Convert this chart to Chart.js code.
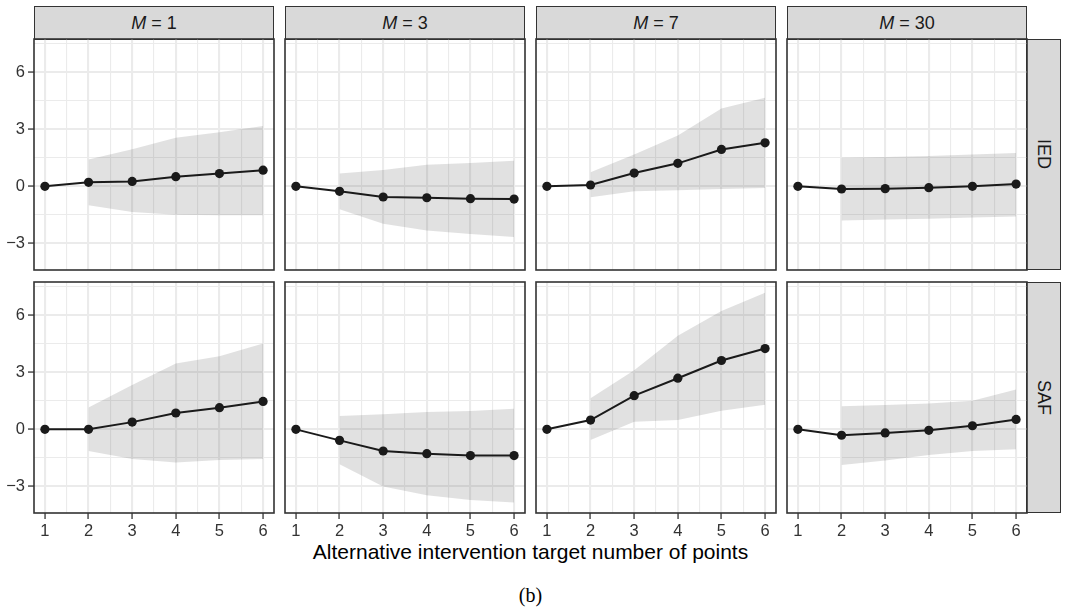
<!DOCTYPE html>
<html>
<head>
<meta charset="utf-8">
<script src="https://cdn.jsdelivr.net/npm/chart.js@4.4.1/dist/chart.umd.min.js"></script>
<style>
body { margin: 0; background: #fff; }
#wrap { position: relative; width: 1066px; height: 612px; overflow: hidden; font-family: "Liberation Sans", Arial, sans-serif; }
canvas { position: absolute; }
.strip { position: absolute; box-sizing: border-box; background: #d9d9d9; border: 1.6px solid #333;
  display: flex; align-items: center; justify-content: center; font-size: 18px; color: #1a1a1a; }
.strip.side { writing-mode: vertical-rl; }
#xtitle { position: absolute; left: 34px; width: 993px; top: 542px; text-align: center; font-size: 21px; line-height: 20px; color: #000; }
#caption { position: absolute; left: 34px; width: 993px; top: 584px; text-align: center; font-family: "Liberation Serif", "Times New Roman", serif; font-size: 20px; line-height: 22px; color: #000; }
</style>
</head>
<body>
<div id="wrap">
  <div id="xtitle">Alternative intervention target number of points</div>
  <div id="caption">(b)</div>
</div>
<script>
"use strict";

// data
var xPoints = [1, 2, 3, 4, 5, 6];
var mValues = ["1", "3", "7", "30"];
var outcomes = ["IED", "SAF"];
var yTicks = [-3, 0, 3, 6];

var iedEst1 = [0, 0.21, 0.26, 0.51, 0.67, 0.85];
var iedLo1 = [null, -1.0, -1.35, -1.5, -1.52, -1.52];
var iedHi1 = [null, 1.41, 1.95, 2.55, 2.85, 3.17];

var iedEst3 = [0, -0.26, -0.56, -0.6, -0.65, -0.67];
var iedLo3 = [null, -1.2, -1.97, -2.32, -2.5, -2.67];
var iedHi3 = [null, 0.67, 0.86, 1.14, 1.23, 1.35];

var iedEst7 = [0, 0.07, 0.7, 1.21, 1.94, 2.29];
var iedLo7 = [null, -0.58, -0.26, -0.21, -0.14, -0.09];
var iedHi7 = [null, 0.74, 1.67, 2.67, 4.1, 4.66];

var iedEst30 = [0, -0.14, -0.12, -0.07, 0, 0.12];
var iedLo30 = [null, -1.8, -1.75, -1.7, -1.64, -1.58];
var iedHi30 = [null, 1.5, 1.55, 1.6, 1.68, 1.76];

var safEst1 = [0, 0, 0.38, 0.86, 1.14, 1.47];
var safLo1 = [null, -1.14, -1.56, -1.75, -1.61, -1.56];
var safHi1 = [null, 1.15, 2.33, 3.46, 3.85, 4.51];

var safEst3 = [0, -0.58, -1.14, -1.28, -1.38, -1.38];
var safLo3 = [null, -1.84, -3.0, -3.46, -3.71, -3.85];
var safHi3 = [null, 0.7, 0.79, 0.91, 0.96, 1.08];

var safEst7 = [0, 0.49, 1.77, 2.69, 3.62, 4.25];
var safLo7 = [null, -0.56, 0.4, 0.49, 0.98, 1.29];
var safHi7 = [null, 1.63, 3.11, 4.92, 6.23, 7.19];

var safEst30 = [0, -0.31, -0.19, -0.05, 0.19, 0.52];
var safLo30 = [null, -1.87, -1.64, -1.35, -1.14, -1.05];
var safHi30 = [null, 1.22, 1.28, 1.36, 1.5, 2.1];

var panels = [
    [[iedEst1, iedLo1, iedHi1], [iedEst3, iedLo3, iedHi3], [iedEst7, iedLo7, iedHi7], [iedEst30, iedLo30, iedHi30]],
    [[safEst1, safLo1, safHi1], [safEst3, safLo3, safHi3], [safEst7, safLo7, safHi7], [safEst30, safLo30, safHi30]]
];

// layout
var panelLeft = [34, 285, 536, 787];
var panelTop = [39, 282];
var panelW = 240, panelH = 231;
var yAxisW = 34, xAxisH = 30;
var fontFamily = '"Liberation Sans", Arial, sans-serif';

var xGrid = [];
for (var g = 1; g <= 6; g += 0.5) xGrid.push(g);
var yGrid = [];
yTicks.forEach(function (t) { yGrid.push(t); if (t + 1.5 < 7.75) yGrid.push(t + 1.5); });

function toPts(arr) {
    return xPoints.map(function (x, i) { return { x: x, y: arr[i] }; });
}

var panelBorder = {
    id: "panelBorder",
    afterDraw: function (chart) {
        var a = chart.chartArea, c = chart.ctx;
        c.save();
        c.strokeStyle = "#333";
        c.lineWidth = 1.6;
        c.strokeRect(a.left, a.top, a.right - a.left, a.bottom - a.top);
        c.restore();
    }
};

function isMajorX(v) { return Number.isInteger(v); }
function isMajorY(v) { return yTicks.indexOf(v) >= 0; }

var wrap = document.getElementById("wrap");

function drawPanel(row, col) {
    var d = panels[row][col];
    var axW = col === 0 ? yAxisW : 0;
    var axH = row === 1 ? xAxisH : 0;

    var cv = document.createElement("canvas");
    cv.width = panelW + axW + 4;
    cv.height = panelH + axH + 4;
    cv.style.left = (panelLeft[col] - axW - 2) + "px";
    cv.style.top = (panelTop[row] - 2) + "px";
    wrap.appendChild(cv);

    new Chart(cv, {
        type: "line",
        data: {
            datasets: [
                { data: toPts(d[0]), borderColor: "#1a1a1a", borderWidth: 2, pointRadius: 4.6,
                  pointBackgroundColor: "#1a1a1a", pointBorderWidth: 0, fill: false, tension: 0 },
                { data: toPts(d[2]), borderWidth: 0, pointRadius: 0, fill: "+1",
                  backgroundColor: "rgba(51,51,51,0.15)", tension: 0 },
                { data: toPts(d[1]), borderWidth: 0, pointRadius: 0, fill: false, tension: 0 }
            ]
        },
        options: {
            responsive: false,
            animation: false,
            events: [],
            layout: { padding: 2, autoPadding: false },
            plugins: { legend: { display: false }, tooltip: { enabled: false } },
            scales: {
                x: {
                    type: "linear", min: 0.75, max: 6.25,
                    afterBuildTicks: function (s) { s.ticks = xGrid.map(function (v) { return { value: v }; }); },
                    afterFit: function (s) { s.height = axH; s.paddingLeft = 0; s.paddingRight = 0; },
                    ticks: {
                        display: row === 1, padding: 3, color: "#333",
                        font: { size: 16.5, family: fontFamily },
                        maxRotation: 0, autoSkip: false,
                        callback: function (v) { return isMajorX(v) ? String(v) : ""; }
                    },
                    grid: {
                        color: "#ebebeb",
                        lineWidth: function (c) { return isMajorX(c.tick.value) ? 2.1 : 1.1; },
                        drawTicks: row === 1, tickLength: 6,
                        tickColor: function (c) { return isMajorX(c.tick.value) ? "#333" : "rgba(0,0,0,0)"; },
                        tickWidth: function (c) { return isMajorX(c.tick.value) ? 1.3 : 0; }
                    },
                    border: { display: false }
                },
                y: {
                    type: "linear", min: -4.4, max: 7.75,
                    afterBuildTicks: function (s) { s.ticks = yGrid.map(function (v) { return { value: v }; }); },
                    afterFit: function (s) { s.width = axW; s.paddingTop = 0; s.paddingBottom = 0; },
                    ticks: {
                        display: col === 0, padding: 3, color: "#333",
                        font: { size: 16.5, family: fontFamily },
                        autoSkip: false,
                        callback: function (v) { return isMajorY(v) ? String(v).replace("-", "\u2212") : ""; }
                    },
                    grid: {
                        color: "#ebebeb",
                        lineWidth: function (c) { return isMajorY(c.tick.value) ? 2.1 : 1.1; },
                        drawTicks: col === 0, tickLength: 6,
                        tickColor: function (c) { return isMajorY(c.tick.value) ? "#333" : "rgba(0,0,0,0)"; },
                        tickWidth: function (c) { return isMajorY(c.tick.value) ? 1.3 : 0; }
                    },
                    border: { display: false }
                }
            }
        },
        plugins: [panelBorder]
    });
}

// top strips
mValues.forEach(function (m, col) {
    var s = document.createElement("div");
    s.className = "strip";
    s.style.left = panelLeft[col] + "px";
    s.style.top = "6px";
    s.style.width = panelW + "px";
    s.style.height = "34px";
    s.innerHTML = "<i>M</i>&nbsp;=&nbsp;" + m;
    wrap.appendChild(s);
});

// side strips
outcomes.forEach(function (o, row) {
    var s = document.createElement("div");
    s.className = "strip side";
    s.style.left = (panelLeft[3] + panelW - 1) + "px";
    s.style.top = panelTop[row] + "px";
    s.style.width = "35px";
    s.style.height = panelH + "px";
    s.textContent = o;
    wrap.appendChild(s);
});

for (var r = 0; r < 2; r++) {
    for (var c = 0; c < 4; c++) drawPanel(r, c);
}
</script>
</body>
</html>
